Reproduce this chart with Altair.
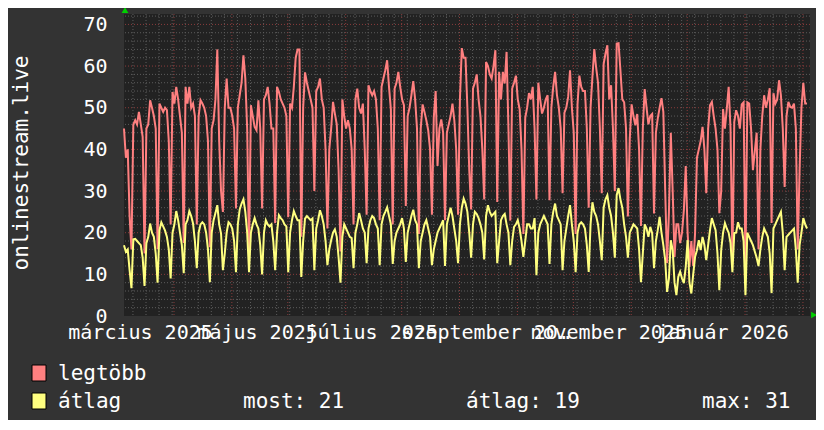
import altair as alt
import pandas as pd

# ---------------- data (daily values) ----------------
red_vals = [
    45, 38, 40, 24, 16,
    46, 47, 46, 49, 46, 43, 15,
    45, 46, 51.8, 50, 48, 45, 16,
    51, 50, 49, 50, 49.4, 42, 22,
    53.8, 51, 55, 52, 48, 44, 17.5,
    55, 51, 55, 50, 51, 48, 22,
    48, 51.8, 51, 50, 48, 42, 16.5,
    45, 47, 52, 64, 42, 30, 25,
    50, 57, 50, 50, 48, 45, 25.8,
    50, 53, 56, 62.6, 57, 45, 15,
    50.6, 48, 45.4, 44.6, 51.8, 45, 25.8,
    52, 53, 55, 51, 45, 45, 22.3,
    55, 53.8, 52, 51, 50, 48, 23.7,
    51, 50, 55, 62, 64, 64, 19,
    50, 58.5, 56, 54, 52, 50, 30,
    54, 55, 57, 52, 50, 40, 21,
    40, 45, 51.4, 48.6, 46, 35, 15.5,
    52, 48, 45, 47, 45, 40, 22,
    52, 54.6, 50, 48.6, 51, 40, 24.3,
    55.4, 54, 53, 54, 52, 45, 23,
    55, 57, 59, 61.4, 55, 49.6, 22,
    54.6, 56, 58.6, 55, 52, 50.6, 26.4,
    48, 50, 53, 56.4, 52, 45, 19.7,
    45, 50.8, 49, 47, 44.6, 40, 24.3,
    47.7, 54, 36, 45, 47.2, 44, 23,
    44, 46, 48, 51, 47, 40, 24.3,
    52, 64.3, 62, 62, 50, 35, 25.6,
    54.6, 56, 58, 52, 48, 40, 28,
    61, 60, 58, 57, 60, 63.8, 27.4,
    58.6, 52, 58.6, 55.8, 63.4, 45, 22.9,
    54.6, 56, 57.7, 52, 49.6, 40, 19.7,
    47.6, 50, 53.5, 52, 55, 45, 28,
    56, 52, 48.6, 50, 52, 53, 27.8,
    50, 55, 58.6, 53, 50, 45, 29.5,
    48.8, 50, 52.6, 59, 50, 44, 19.7,
    50.7, 57.7, 55, 54, 54, 45, 26,
    50, 57.4, 64.1, 59.6, 56, 45, 29.5,
    60.5, 63, 65, 52, 55.4, 45, 30,
    65.4, 65.5, 59, 52, 51.3, 45, 23.9,
    42.5, 50.8, 48, 45.8, 48.5, 40, 21.6,
    45, 54.5, 50, 46, 48, 48.5, 24.6,
    44, 47.4, 50, 52.3, 49, 30, 12.7,
    25, 44, 30, 14.2, 22, 22, 17.5,
    20, 25.4, 36, 20, 11.8, 18, 12,
    19.9, 38, 40, 42, 45.4, 40, 29.5,
    45, 50.6, 51.4, 48, 45, 40, 24.7,
    30, 49.7, 45, 49.7, 55, 45, 13,
    46.6, 49.4, 48, 45, 50.8, 51.3, 12.2,
    51.3, 51, 45, 35, 39.5, 44, 16,
    40, 48, 53, 50, 52, 54.7, 22.3,
    53.5, 51, 52, 56.6, 53, 45, 31,
    48, 51.4, 50.2, 50, 51, 45, 16,
    35, 50, 56, 51, 51,
]

yellow_vals = [
    17, 15.4, 16, 11, 6.7,
    18.4, 18.5, 18, 17.5, 17, 14, 7.2,
    17.5, 19, 22.2, 20, 19, 15, 8,
    20.6, 22.5, 21.5, 20.5, 19, 16, 9,
    20, 22, 25.2, 23, 20, 17, 10.3,
    22, 23, 25.2, 24, 22.2, 18, 11.5,
    20, 22, 22.5, 22, 20, 16, 8.1,
    20, 23, 24.7, 26.6, 22, 19.8, 11,
    15, 20, 22.5, 22, 21, 18, 10.5,
    22, 25.6, 27, 28, 25, 20, 10.5,
    20, 22, 23.5, 22, 21, 17, 10,
    20, 23, 22, 21.5, 22, 18, 11,
    20, 24.2, 23.5, 23, 22, 21.5, 10.5,
    20, 23, 25.2, 24, 23, 23, 9.4,
    18, 23.4, 24, 23.5, 23, 23.4, 11,
    21, 23, 25.4, 24, 22, 18, 12.2,
    16, 18.2, 20, 20.8, 19, 14, 8,
    19, 22, 21, 20, 19, 18.7, 11.5,
    20, 22, 24.7, 23, 21, 20, 12.7,
    21, 23, 24, 23.5, 22, 21, 12.2,
    22, 24, 25, 26.1, 24, 22, 12.5,
    18, 20, 21, 22, 23.5, 21, 13,
    20, 22, 24, 25.5, 23, 22, 11.5,
    18, 20, 22, 23, 21, 19, 12.2,
    16, 18, 20, 21, 22, 23, 12,
    22, 24, 26, 24, 21, 18, 12.7,
    22, 26, 28.2, 27, 25, 20, 14,
    22, 25, 24.5, 23.5, 22, 20, 13.6,
    24, 26.6, 25, 24, 24.5, 25, 12.7,
    18, 23, 24, 24.5, 22, 20, 12.2,
    18, 21.4, 22, 23, 21, 18, 14.2,
    18, 22, 22, 21, 21, 23.5, 9.8,
    20, 22, 23, 24, 23, 22, 12.5,
    22, 25, 27, 24, 23, 22, 11,
    18, 21, 24, 26.6, 22, 18, 10.5,
    20, 22, 22.5, 22, 21, 17, 10.6,
    22, 27.3, 25, 24, 22, 18, 13.4,
    26, 28, 29, 26, 24, 20, 14,
    29, 30.7, 28, 26, 22, 19, 14,
    20, 21, 22, 21.5, 21, 16, 8.1,
    15, 22, 21, 19, 21.4, 19.9, 11.5,
    18, 20.6, 23.8, 20, 17, 13.4, 5.8,
    9, 18.2, 15.8, 8, 5, 9.4, 10.6,
    9, 7.9, 11.8, 18.2, 8, 5.4, 10,
    14.2, 15.8, 18.2, 15.8, 19, 17, 13.4,
    17, 20.6, 23.5, 22, 20.6, 15, 6.2,
    15.8, 20, 22.3, 21, 20, 17.5, 10.5,
    19.9, 20, 22.5, 21, 21, 18, 5,
    20, 19, 18, 17, 15.5, 14, 12,
    16, 19, 21, 20, 19, 15, 5.5,
    21, 22, 23, 24, 25, 20, 11,
    19, 19.5, 20, 20.5, 21, 16, 8,
    17, 20, 23.5, 22, 21,
]

first_day = "2025-02-02T05:00:00"
month_starts = [
    "2025-03-01", "2025-04-01", "2025-05-01", "2025-06-01", "2025-07-01",
    "2025-08-01", "2025-09-01", "2025-10-01", "2025-11-01", "2025-12-01",
    "2026-01-01", "2026-02-01",
]
first_week_line = "2025-02-07"

x_label_texts = ["március 2025", "május 2025", "július 2025",
                 "szeptember 2025", "november 2025", "január 2026"]
x_label_dates = [(2025, 2, 10, 19), (2025, 4, 14, 12), (2025, 6, 14, 15),
                 (2025, 8, 14, 17), (2025, 10, 19, 15), (2025, 12, 19, 17)]

y_ticks = [0, 10, 20, 30, 40, 50, 60, 70]
y_minor = [v for v in range(2, 73, 2) if v % 10 != 0]
y_major = [10, 20, 30, 40, 50, 60, 70]

series_names = ["legtöbb", "átlag"]
legend_stats = ["most: 21", "átlag: 19", "max: 31"]
unit_title = "onlinestream.live"

# ---------------- styling ----------------
RED = "#ff8080"
YELLOW = "#ffff80"
BG = "#333333"
CANVAS = "#222222"
GRID = "#5c5c5c"
MGRID = "#8a3c3c"
TXT = "#ffffff"
FONT = "DejaVu Sans Mono"

dates = pd.date_range(pd.Timestamp(first_day), periods=len(red_vals), freq="D")
df = pd.DataFrame({
    "date": dates.strftime("%Y-%m-%dT%H:%M:%S"),
    "red": red_vals,
    "yellow": yellow_vals,
})

week_lines = pd.date_range(first_week_line, "2026-02-04", freq="7D")
df_week = pd.DataFrame({"d": week_lines.strftime("%Y-%m-%dT00:00:00")})
df_month = pd.DataFrame({"d": [m + "T00:00:00" for m in month_starts]})
df_ymin = pd.DataFrame({"v": y_minor})
df_ymaj = pd.DataFrame({"v": y_major})

xscale = alt.Scale(
    domain=[alt.DateTime(year=2025, month=2, date=2, hours=5),
            alt.DateTime(year=2026, month=2, date=4, hours=19)],
    nice=False,
)
yscale = alt.Scale(domain=[0, 72.5], nice=False, zero=False)

expr = ""
for (yy, mm, dd, hh), t in zip(x_label_dates, x_label_texts):
    expr += f"month(datum.value)=={mm - 1}?'{t}':"
expr += "''"

x_axis = alt.Axis(
    values=[alt.DateTime(year=yy, month=mm, date=dd, hours=hh)
            for (yy, mm, dd, hh) in x_label_dates],
    labelExpr=expr, grid=False, ticks=False, domain=False,
    labelFont=FONT, labelFontSize=20, labelColor=TXT, labelPadding=6,
    labelOverlap=False, labelFlush=False, labelBound=False, labelAngle=0,
    title=None, orient="bottom",
)
y_axis = alt.Axis(
    values=y_ticks, grid=False, ticks=False, domain=False,
    labelFont=FONT, labelFontSize=20, labelColor=TXT, labelPadding=17,
    title=None, orient="left",
)

vgrid_minor = alt.Chart(df_week).mark_rule(color=GRID, strokeDash=[1, 2], strokeWidth=1).encode(
    x=alt.X("d:T", scale=xscale, axis=None))
vgrid_major = alt.Chart(df_month).mark_rule(color=MGRID, strokeDash=[1, 2], strokeWidth=1).encode(
    x=alt.X("d:T", scale=xscale, axis=None))
hgrid_minor = alt.Chart(df_ymin).mark_rule(color=GRID, strokeDash=[1, 2], strokeWidth=1).encode(
    y=alt.Y("v:Q", scale=yscale, axis=None))
hgrid_major = alt.Chart(df_ymaj).mark_rule(color=MGRID, strokeDash=[1, 2], strokeWidth=1).encode(
    y=alt.Y("v:Q", scale=yscale, axis=None))

red_line = alt.Chart(df).mark_line(color=RED, strokeWidth=2).encode(
    x=alt.X("date:T", scale=xscale, axis=x_axis),
    y=alt.Y("red:Q", scale=yscale, axis=y_axis),
)
yellow_line = alt.Chart(df).mark_line(color=YELLOW, strokeWidth=2).encode(
    x=alt.X("date:T", scale=xscale, axis=None),
    y=alt.Y("yellow:Q", scale=yscale, axis=None),
)

one = pd.DataFrame({"k": [0]})
arrow_up = alt.Chart(one).mark_point(shape="triangle-up", filled=True, color="#00d000",
                                     size=45, opacity=1).encode(
    x=alt.value(1), y=alt.value(-4))
arrow_right = alt.Chart(one).mark_point(shape="triangle-right", filled=True, color="#00d000",
                                        size=45, opacity=1).encode(
    x=alt.value(690), y=alt.value(301))

title_txt = alt.Chart(pd.DataFrame({"t": [unit_title]})).mark_text(
    angle=270, align="center", baseline="middle", font=FONT, fontSize=21, color=TXT
).encode(x=alt.value(-102), y=alt.value(149), text="t:N")

box_red = alt.Chart(one).mark_rect(fill=RED, stroke="#000000", strokeWidth=1).encode(
    x=alt.value(-92), x2=alt.value(-78), y=alt.value(351), y2=alt.value(367))
box_yel = alt.Chart(one).mark_rect(fill=YELLOW, stroke="#000000", strokeWidth=1).encode(
    x=alt.value(-92), x2=alt.value(-78), y=alt.value(379), y2=alt.value(395))

def legend_text(t, x, y):
    return alt.Chart(pd.DataFrame({"t": [t]})).mark_text(
        align="left", baseline="middle", font=FONT, fontSize=21, color=TXT
    ).encode(x=alt.value(x), y=alt.value(y), text="t:N")

leg1 = legend_text(series_names[0], -66, 360)
leg2 = legend_text(series_names[1], -66, 388)
st1 = legend_text(legend_stats[0], 119, 388)
st2 = legend_text(legend_stats[1], 342, 388)
st3 = legend_text(legend_stats[2], 578, 388)

chart = alt.layer(
    vgrid_minor, hgrid_minor, vgrid_major, hgrid_major,
    red_line, yellow_line,
    arrow_up, arrow_right, title_txt,
    box_red, box_yel, leg1, leg2, st1, st2, st3,
).resolve_axis(
    x="independent", y="independent",
).properties(
    width=686, height=302,
    padding={"left": 116, "top": 6, "right": 6, "bottom": 104},
    autosize=alt.AutoSizeParams(type="none"),
).configure(
    background=BG,
).configure_view(
    fill=CANVAS, stroke=None,
)

chart.save("out.html", embed_options={"renderer": "svg", "actions": False})
